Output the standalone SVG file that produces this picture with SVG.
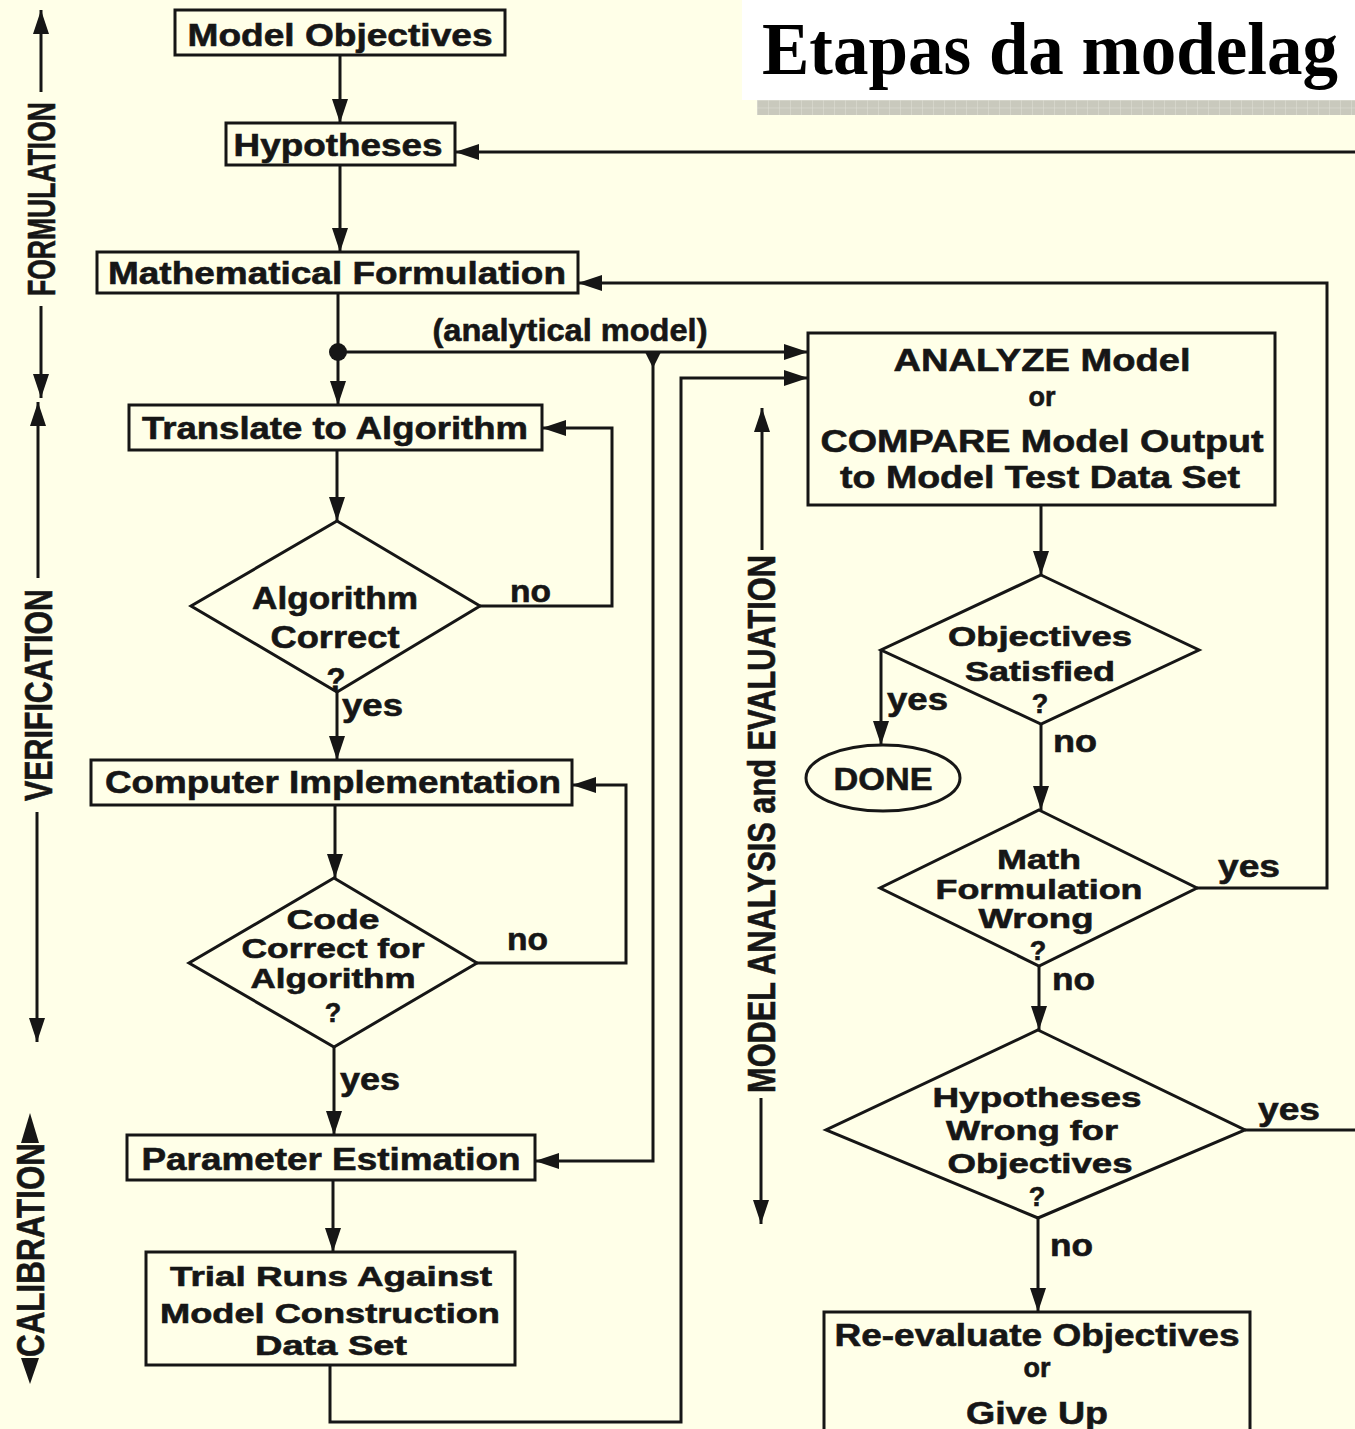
<svg xmlns="http://www.w3.org/2000/svg" width="1355" height="1429" viewBox="0 0 1355 1429">
  <defs>
    <style>
      .bg { fill: #FFFFE8; }
      .box { fill: none; stroke: #161616; stroke-width: 3; }
      .ln { fill: none; stroke: #161616; stroke-width: 3; }
      .arr { marker-end: url(#head); }
      .t { font-family: "Liberation Sans", Arial, Helvetica, sans-serif; font-weight: bold; font-size: 32px; fill: #161616; stroke: #161616; stroke-width: 0.6; text-anchor: middle; }
      .d { font-size: 31px; }
      .s { font-size: 27px; }
      .lab { text-anchor: start; font-size: 31px; }
      .axis { font-family: "Liberation Sans", Arial, Helvetica, sans-serif; font-weight: bold; font-size: 38px; fill: #161616; stroke: #161616; stroke-width: 0.6; text-anchor: middle; }
      .title { font-family: "Liberation Serif", "Times New Roman", serif; font-weight: bold; font-size: 73px; fill: #000; }
    </style>
    <marker id="head" viewBox="0 0 24 16" refX="24" refY="8" markerWidth="24" markerHeight="16" markerUnits="userSpaceOnUse" orient="auto-start-reverse">
      <path d="M0,0 L24,8 L0,16 z" fill="#161616"/>
    </marker>
    <pattern id="grid" x="757" y="100" width="11" height="7.5" patternUnits="userSpaceOnUse">
      <rect width="11" height="7.5" fill="#C9C9BD"/>
      <path d="M0,0 H11 M0,0 V7.5" stroke="#E2E2D8" stroke-width="1"/>
    </pattern>
  </defs>

  <rect class="bg" x="0" y="0" width="1355" height="1429"/>

  <!-- title banner -->
  <g id="title">
    <rect x="742" y="0" width="613" height="100" fill="#FFFFFF"/>
    <rect x="757" y="100" width="598" height="15" fill="url(#grid)"/>
    <text class="title" x="762" y="74" textLength="576" lengthAdjust="spacingAndGlyphs">Etapas da modelag</text>
  </g>

  <!-- phase axes -->
  <g id="axis-formulation">
    <path class="ln" d="M41,92 V10" marker-end="url(#head)"/>
    <path class="ln" d="M41,306 V398" marker-end="url(#head)"/>
    <text class="axis" x="55" y="199" transform="rotate(-90 55 199)" textLength="194" lengthAdjust="spacingAndGlyphs">FORMULATION</text>
  </g>
  <g id="axis-verification">
    <path class="ln" d="M38,578 V402" marker-end="url(#head)"/>
    <path class="ln" d="M37,812 V1042" marker-end="url(#head)"/>
    <text class="axis" x="52" y="695" transform="rotate(-90 52 695)" textLength="212" lengthAdjust="spacingAndGlyphs">VERIFICATION</text>
  </g>
  <g id="axis-calibration">
    <polygon points="30,1113 21,1143 39,1143" fill="#161616"/>
    <polygon points="30,1384 21,1358 39,1358" fill="#161616"/>
    <text class="axis" x="44" y="1250" transform="rotate(-90 44 1250)" textLength="214" lengthAdjust="spacingAndGlyphs">CALIBRATION</text>
  </g>
  <g id="axis-evaluation">
    <path class="ln" d="M762,550 V408" marker-end="url(#head)"/>
    <path class="ln" d="M761,1098 V1224" marker-end="url(#head)"/>
    <text class="axis" x="775" y="824" transform="rotate(-90 775 824)" font-size="34" textLength="538" lengthAdjust="spacingAndGlyphs">MODEL ANALYSIS and EVALUATION</text>
  </g>

  <!-- connectors -->
  <g id="connectors">
    <path class="ln arr" d="M340,55 V123"/>
    <path class="ln arr" d="M340,165 V252"/>
    <path class="ln arr" d="M338,293 V405"/>
    <path class="ln arr" d="M338,352 H808"/>
    <circle cx="338" cy="352" r="9" fill="#161616"/>
    <path class="ln arr" d="M653,352 V1161 H535"/>
    <polygon points="645,352 661,352 653,368" fill="#161616"/>
    <path class="ln arr" d="M330,1365 V1422 H681 V378 H808"/>
    <path class="ln arr" d="M337,450 V521"/>
    <path class="ln arr" d="M480,606 H612 V428 H542"/>
    <path class="ln arr" d="M337,692 V760"/>
    <path class="ln arr" d="M335,805 V878"/>
    <path class="ln arr" d="M477,963 H626 V785 H572"/>
    <path class="ln arr" d="M334,1047 V1135"/>
    <path class="ln arr" d="M333,1180 V1252"/>
    <path class="ln arr" d="M1041,505 V575"/>
    <path class="ln arr" d="M881,650 V745"/>
    <path class="ln arr" d="M1041,724 V810"/>
    <path class="ln arr" d="M1197,888 H1327 V283 H578"/>
    <path class="ln arr" d="M1039,966 V1030"/>
    <path class="ln" d="M1245,1130 H1355"/>
    <path class="ln arr" d="M1355,152 H455"/>
    <path class="ln arr" d="M1038,1218 V1312"/>
  </g>

  <!-- connector labels -->
  <g id="labels">
    <text class="t" x="570" y="341" font-size="27" textLength="275" lengthAdjust="spacingAndGlyphs">(analytical model)</text>
    <text class="t lab" x="510" y="602" textLength="41" lengthAdjust="spacingAndGlyphs">no</text>
    <text class="t lab" x="342" y="716" textLength="61" lengthAdjust="spacingAndGlyphs">yes</text>
    <text class="t lab" x="507" y="950" textLength="41" lengthAdjust="spacingAndGlyphs">no</text>
    <text class="t lab" x="340" y="1090" textLength="60" lengthAdjust="spacingAndGlyphs">yes</text>
    <text class="t lab" x="887" y="710" textLength="61" lengthAdjust="spacingAndGlyphs">yes</text>
    <text class="t lab" x="1053" y="752" textLength="44" lengthAdjust="spacingAndGlyphs">no</text>
    <text class="t lab" x="1218" y="877" textLength="62" lengthAdjust="spacingAndGlyphs">yes</text>
    <text class="t lab" x="1052" y="990" textLength="43" lengthAdjust="spacingAndGlyphs">no</text>
    <text class="t lab" x="1258" y="1120" textLength="62" lengthAdjust="spacingAndGlyphs">yes</text>
    <text class="t lab" x="1050" y="1256" textLength="43" lengthAdjust="spacingAndGlyphs">no</text>
  </g>

  <!-- nodes -->
  <g id="model-objectives">
    <rect class="box" x="175" y="10" width="330" height="45"/>
    <text class="t" x="340" y="46" textLength="305" lengthAdjust="spacingAndGlyphs">Model Objectives</text>
  </g>
  <g id="hypotheses">
    <rect class="box" x="226" y="123" width="229" height="42"/>
    <text class="t" x="338" y="156" textLength="209" lengthAdjust="spacingAndGlyphs">Hypotheses</text>
  </g>
  <g id="math-formulation">
    <rect class="box" x="97" y="252" width="481" height="41"/>
    <text class="t" x="337" y="284" textLength="458" lengthAdjust="spacingAndGlyphs">Mathematical Formulation</text>
  </g>
  <g id="translate-algorithm">
    <rect class="box" x="129" y="405" width="413" height="45"/>
    <text class="t" x="335" y="439" textLength="386" lengthAdjust="spacingAndGlyphs">Translate to Algorithm</text>
  </g>
  <g id="algorithm-correct">
    <polygon class="box" points="337,521 480,606 337,692 191,606"/>
    <text class="t d" x="335" y="609" textLength="166" lengthAdjust="spacingAndGlyphs">Algorithm</text>
    <text class="t d" x="335" y="648" textLength="129" lengthAdjust="spacingAndGlyphs">Correct</text>
    <text class="t d" x="336" y="690">?</text>
  </g>
  <g id="computer-implementation">
    <rect class="box" x="91" y="760" width="481" height="45"/>
    <text class="t" x="333" y="793" textLength="456" lengthAdjust="spacingAndGlyphs">Computer Implementation</text>
  </g>
  <g id="code-correct">
    <polygon class="box" points="334,878 477,963 334,1047 189,963"/>
    <text class="t s" x="333" y="929" textLength="93" lengthAdjust="spacingAndGlyphs">Code</text>
    <text class="t s" x="333" y="958" textLength="183" lengthAdjust="spacingAndGlyphs">Correct for</text>
    <text class="t s" x="333" y="988" textLength="165" lengthAdjust="spacingAndGlyphs">Algorithm</text>
    <text class="t s" x="333" y="1022">?</text>
  </g>
  <g id="parameter-estimation">
    <rect class="box" x="127" y="1135" width="408" height="45"/>
    <text class="t" x="331" y="1170" textLength="379" lengthAdjust="spacingAndGlyphs">Parameter Estimation</text>
  </g>
  <g id="trial-runs">
    <rect class="box" x="146" y="1252" width="369" height="113"/>
    <text class="t s" x="331" y="1286" textLength="322" lengthAdjust="spacingAndGlyphs">Trial Runs Against</text>
    <text class="t s" x="330" y="1323" textLength="340" lengthAdjust="spacingAndGlyphs">Model Construction</text>
    <text class="t s" x="331" y="1355" textLength="152" lengthAdjust="spacingAndGlyphs">Data Set</text>
  </g>
  <g id="analyze-compare">
    <rect class="box" x="808" y="333" width="467" height="172"/>
    <text class="t" x="1042" y="371" textLength="297" lengthAdjust="spacingAndGlyphs">ANALYZE Model</text>
    <text class="t s" x="1042" y="406">or</text>
    <text class="t" x="1042" y="452" textLength="443" lengthAdjust="spacingAndGlyphs">COMPARE Model Output</text>
    <text class="t" x="1040" y="488" textLength="400" lengthAdjust="spacingAndGlyphs">to Model Test Data Set</text>
  </g>
  <g id="objectives-satisfied">
    <polygon class="box" points="1041,575 1199,650 1041,724 881,650"/>
    <text class="t s" x="1040" y="646" textLength="184" lengthAdjust="spacingAndGlyphs">Objectives</text>
    <text class="t s" x="1040" y="681" textLength="150" lengthAdjust="spacingAndGlyphs">Satisfied</text>
    <text class="t s" x="1040" y="713">?</text>
  </g>
  <g id="done">
    <ellipse class="box" cx="883" cy="778" rx="77" ry="33"/>
    <text class="t" x="883" y="790" textLength="99" lengthAdjust="spacingAndGlyphs">DONE</text>
  </g>
  <g id="math-wrong">
    <polygon class="box" points="1039,810 1197,888 1039,966 880,888"/>
    <text class="t s" x="1039" y="869" textLength="84" lengthAdjust="spacingAndGlyphs">Math</text>
    <text class="t s" x="1039" y="899" textLength="207" lengthAdjust="spacingAndGlyphs">Formulation</text>
    <text class="t s" x="1036" y="928" textLength="115" lengthAdjust="spacingAndGlyphs">Wrong</text>
    <text class="t s" x="1038" y="960">?</text>
  </g>
  <g id="hypotheses-wrong">
    <polygon class="box" points="1038,1030 1245,1130 1038,1218 826,1130"/>
    <text class="t s" x="1037" y="1107" textLength="209" lengthAdjust="spacingAndGlyphs">Hypotheses</text>
    <text class="t s" x="1032" y="1140" textLength="172" lengthAdjust="spacingAndGlyphs">Wrong for</text>
    <text class="t s" x="1040" y="1173" textLength="185" lengthAdjust="spacingAndGlyphs">Objectives</text>
    <text class="t s" x="1037" y="1206">?</text>
  </g>
  <g id="re-evaluate">
    <rect class="box" x="824" y="1312" width="426" height="130"/>
    <text class="t" x="1037" y="1346" textLength="405" lengthAdjust="spacingAndGlyphs">Re-evaluate Objectives</text>
    <text class="t s" x="1037" y="1377">or</text>
    <text class="t" x="1037" y="1424" textLength="142" lengthAdjust="spacingAndGlyphs">Give Up</text>
  </g>
</svg>
